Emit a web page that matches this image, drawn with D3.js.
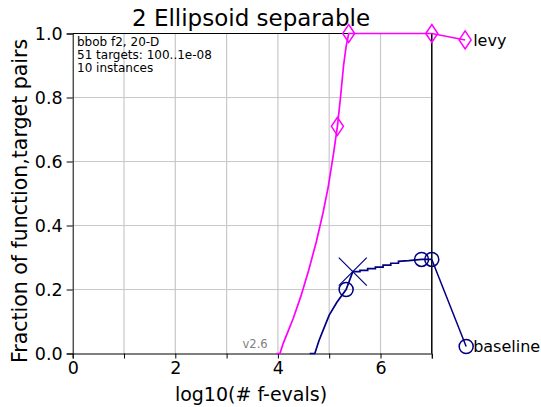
<!DOCTYPE html>
<html><head><meta charset="utf-8">
<script src="https://cdn.jsdelivr.net/npm/d3@7"></script>
<style>body{margin:0;background:#fff}svg{display:block}text{font-family:"DejaVu Sans",sans-serif}</style>
</head><body>
<script>
const title = "2 Ellipsoid separable";
const xTicks = [0, 2, 4, 6];
const xMinor = [1, 3, 5, 7];
const yTicks = [0, 0.2, 0.4, 0.6, 0.8, 1.0];
const xGrid = [1, 2, 3, 4, 5, 6];
const yGrid = [0.2, 0.4, 0.6, 0.8];
const infoLines = ["bbob f2, 20-D", "51 targets: 100..1e-08", "10 instances"];

const levyX = [3.97, 4.04, 4.1, 4.2, 4.3, 4.45, 4.6, 4.75, 4.88, 4.98, 5.08, 5.16, 5.22, 5.28, 5.33, 5.38, 7.0];
const levyY = [0, 0, 0.03, 0.07, 0.11, 0.18, 0.26, 0.35, 0.44, 0.52, 0.62, 0.71, 0.8, 0.9, 0.96, 1.0, 1.0];
const levyMarkX = [5.16, 5.38, 7.0];
const levyMarkY = [0.71, 1.0, 1.0];
const levyEnd = [7.65, 0.98];

const baseX = [4.62, 4.72, 4.8, 4.9, 5.0, 5.15, 5.33, 5.46, 5.6, 5.6, 5.75, 5.75, 5.9, 5.9, 6.05, 6.05, 6.2, 6.2, 6.35, 6.35, 6.55, 6.8, 7.0];
const baseY = [0, 0, 0.04, 0.08, 0.12, 0.16, 0.2, 0.256, 0.256, 0.26, 0.26, 0.265, 0.265, 0.27, 0.27, 0.276, 0.276, 0.282, 0.282, 0.288, 0.29, 0.294, 0.294];
const baseMarkX = [5.33, 6.8, 7.0];
const baseMarkY = [0.2, 0.294, 0.294];
const baseEnd = [7.67, 0.022];
const crossPt = [5.46, 0.256];

const W = 541, H = 407;
const svg = d3.select("body").append("svg").attr("width", W).attr("height", H);
const x = d3.scaleLinear().domain([0, 7]).range([72.7, 431.8]);
const y = d3.scaleLinear().domain([0, 1]).range([353.5, 33.5]);

// grid
svg.append("g").selectAll("line").data(xGrid).join("line")
  .attr("x1", d => x(d)).attr("x2", d => x(d)).attr("y1", y(0)).attr("y2", y(1))
  .attr("stroke", "#c8c8c8").attr("stroke-width", 1.2);
svg.append("g").selectAll("line").data(yGrid).join("line")
  .attr("x1", x(0)).attr("x2", x(7)).attr("y1", d => y(d)).attr("y2", d => y(d))
  .attr("stroke", "#c8c8c8").attr("stroke-width", 1.2);

// axes
const xAxis = svg.append("g").attr("transform", `translate(0,${y(0)})`)
  .call(d3.axisBottom(x).tickValues(xTicks).tickFormat(d3.format("d")).tickSize(5).tickPadding(3));
svg.append("g").attr("transform", `translate(0,${y(0)})`)
  .call(d3.axisBottom(x).tickValues(xMinor).tickFormat("").tickSize(5))
  .select(".domain").remove();
const yAxis = svg.append("g").attr("transform", `translate(${x(0)},0)`)
  .call(d3.axisLeft(y).tickValues(yTicks).tickFormat(d3.format(".1f")).tickSize(6).tickPadding(4));
[xAxis, yAxis].forEach(g => {
  g.selectAll("text").attr("font-size", 17.5).attr("fill", "#000").attr("font-family", "DejaVu Sans");
  g.selectAll("line,path").attr("stroke", "#000");
});
// top & right spines
svg.append("line").attr("x1", x(0)).attr("x2", x(7)).attr("y1", y(1)).attr("y2", y(1)).attr("stroke", "#000").attr("stroke-width", 1.2);
svg.append("line").attr("x1", x(7)).attr("x2", x(7)).attr("y1", y(0)).attr("y2", y(1)).attr("stroke", "#000").attr("stroke-width", 1.5);

// version
svg.append("text").attr("x", x(3.8)).attr("y", y(0) - 6).attr("text-anchor", "end")
  .attr("font-size", 11.5).attr("fill", "#808080").text("v2.6");

const line = d3.line().x(d => x(d[0])).y(d => y(d[1]));

// levy
const levy = levyX.map((v, i) => [v, levyY[i]]);
svg.append("path").attr("d", line(levy)).attr("fill", "none").attr("stroke", "#ff00ff").attr("stroke-width", 1.7);
svg.append("path").attr("d", line([[levyX[levyX.length - 1], levyY[levyY.length - 1]], levyEnd]))
  .attr("fill", "none").attr("stroke", "#ff00ff").attr("stroke-width", 1.5);
const diamond = "M0,-9L6,0L0,9L-6,0Z";
svg.append("g").selectAll("path").data(levyMarkX.map((v, i) => [v, levyMarkY[i]]).concat([levyEnd])).join("path")
  .attr("transform", d => `translate(${x(d[0])},${y(d[1])})`).attr("d", diamond)
  .attr("fill", "none").attr("stroke", "#ff00ff").attr("stroke-width", 1.5);

// baseline
const base = baseX.map((v, i) => [v, baseY[i]]);
svg.append("path").attr("d", line(base)).attr("fill", "none").attr("stroke", "#000080").attr("stroke-width", 1.7);
svg.append("path").attr("d", line([[baseX[baseX.length - 1], baseY[baseY.length - 1]], baseEnd]))
  .attr("fill", "none").attr("stroke", "#000080").attr("stroke-width", 1.5);
svg.append("g").selectAll("circle").data(baseMarkX.map((v, i) => [v, baseMarkY[i]]).concat([baseEnd])).join("circle")
  .attr("cx", d => x(d[0])).attr("cy", d => y(d[1])).attr("r", 7)
  .attr("fill", "none").attr("stroke", "#000080").attr("stroke-width", 1.5);
const cs = 14;
svg.append("path").attr("d", `M${x(crossPt[0]) - cs},${y(crossPt[1]) - cs}L${x(crossPt[0]) + cs},${y(crossPt[1]) + cs}M${x(crossPt[0]) - cs},${y(crossPt[1]) + cs}L${x(crossPt[0]) + cs},${y(crossPt[1]) - cs}`)
  .attr("stroke", "#000080").attr("stroke-width", 1.2).attr("fill", "none");

// legend labels
svg.append("text").attr("x", x(levyEnd[0]) + 8).attr("y", y(levyEnd[1]) + 6).attr("font-size", 16).text("levy");
svg.append("text").attr("x", x(baseEnd[0]) + 7).attr("y", y(baseEnd[1]) + 6).attr("font-size", 16).text("baseline");

// info
svg.append("g").selectAll("text").data(infoLines).join("text")
  .attr("x", 77).attr("y", (d, i) => 46 + i * 13).attr("font-size", 12).text(d => d);

// title & labels
svg.append("text").attr("x", 251).attr("y", 26).attr("text-anchor", "middle").attr("font-size", 23).text(title);
svg.append("text").attr("x", 251).attr("y", 401).attr("text-anchor", "middle").attr("font-size", 19).text("log10(# f-evals)");
svg.append("text").attr("transform", `translate(27,201) rotate(-90)`).attr("text-anchor", "middle").attr("font-size", 20.5).text("Fraction of function,target pairs");
</script>
</body></html>
